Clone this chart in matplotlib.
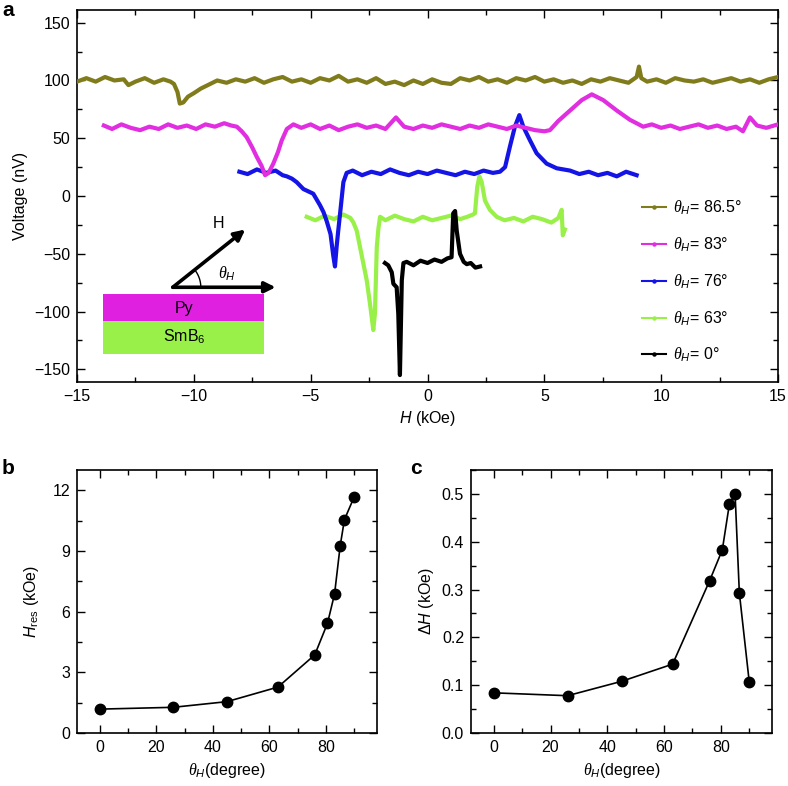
import numpy as np
import matplotlib
matplotlib.use("Agg")
import matplotlib.pyplot as plt
from matplotlib.lines import Line2D
from matplotlib.patches import Rectangle
from matplotlib.ticker import MultipleLocator, FormatStrFormatter

plt.rcParams['font.family'] = ['Liberation Sans', 'DejaVu Sans']
plt.rcParams['mathtext.fontset'] = 'custom'
plt.rcParams['mathtext.rm'] = 'Liberation Sans'
plt.rcParams['mathtext.it'] = 'Liberation Serif:italic'
plt.rcParams['mathtext.sf'] = 'Liberation Sans:italic'

# ---------------- data: panel a ----------------
H_865 = [-15.0, -14.6, -14.2, -13.8, -13.4, -13.0, -12.8, -12.5, -12.1, -11.7, -11.3, -11.0, -10.85, -10.7,
         -10.6, -10.45, -10.25, -10.0, -9.7, -9.4, -9.0, -8.6, -8.2, -7.8, -7.4, -7.0, -6.6, -6.2, -5.8, -5.4,
         -5.0, -4.6, -4.2, -3.8, -3.4, -3.0, -2.6, -2.2, -1.8, -1.4, -1.0, -0.6, -0.2, 0.2, 0.6, 1.0, 1.4, 1.8,
         2.2, 2.6, 3.0, 3.4, 3.8, 4.2, 4.6, 5.0, 5.4, 5.8, 6.2, 6.6, 7.0, 7.4, 7.8, 8.2, 8.6, 8.95, 9.05, 9.15,
         9.4, 9.8, 10.2, 10.6, 11.0, 11.4, 11.8, 12.2, 12.6, 13.0, 13.4, 13.8, 14.2, 14.6, 15.0]
V_865 = [99, 102, 99, 103, 100, 101, 96, 99, 102, 98, 101, 99, 97, 90, 80, 81, 86, 89, 93, 96,
         100, 98, 101, 99, 102, 98, 101, 103, 99, 101, 98, 102, 100, 104, 99, 101, 98, 102, 97, 99,
         96, 100, 97, 101, 98, 97, 102, 100, 103, 99, 101, 98, 102, 100, 103, 99, 101, 98, 100, 97,
         101, 99, 102, 100, 98, 103, 112, 102, 99, 101, 98, 102, 100, 99, 101, 98, 100, 102, 99, 101,
         98, 101, 103]

H_83 = [-13.85, -13.5, -13.1, -12.7, -12.3, -11.9, -11.5, -11.1, -10.7, -10.3, -9.9, -9.5, -9.1, -8.7, -8.4,
        -8.16, -7.95, -7.74, -7.5, -7.31, -7.1, -6.95, -6.8, -6.6, -6.4, -6.24, -6.02, -5.74, -5.4, -5.0,
        -4.6, -4.2, -3.8, -3.4, -3.0, -2.6, -2.2, -1.8, -1.35, -1.0, -0.6, -0.2, 0.2, 0.6, 1.0, 1.4, 1.8,
        2.2, 2.6, 3.0, 3.4, 3.8, 4.2, 4.6, 5.0, 5.24, 5.6, 6.1, 6.6, 7.03, 7.52, 8.1, 8.66, 9.23, 9.6,
        10.0, 10.4, 10.8, 11.2, 11.6, 12.0, 12.4, 12.8, 13.2, 13.5, 13.8, 14.1, 14.5, 15.0]
V_83 = [61, 58, 62, 59, 57, 60, 58, 62, 59, 61, 58, 62, 60, 63, 61, 60, 56, 51, 42, 34,
        26, 18, 20, 28, 38, 48, 58, 62, 59, 62, 58, 61, 57, 60, 62, 59, 61, 58, 68, 60,
        58, 61, 59, 62, 60, 58, 61, 59, 62, 60, 58, 61, 59, 57, 56, 57, 65, 74, 83, 88,
        83, 74, 66, 60, 62, 59, 61, 58, 60, 62, 59, 61, 58, 60, 56, 68, 61, 59, 62]

H_76 = [-8.05, -7.7, -7.3, -6.9, -6.5, -6.2, -6.02, -5.8, -5.6, -5.31, -5.1, -4.89, -4.6, -4.45, -4.31,
        -4.15, -4.03, -3.96, -3.89, -3.82, -3.74, -3.6, -3.46, -3.2, -2.8, -2.4, -2.0, -1.6, -1.2, -0.8,
        -0.4, 0.0, 0.4, 0.8, 1.2, 1.6, 2.0, 2.4, 2.8, 3.1, 3.32, 3.53, 3.74, 3.93, 4.1, 4.39, 4.67, 5.1,
        5.53, 6.1, 6.5, 6.9, 7.3, 7.7, 8.1, 8.5, 8.95]
V_76 = [21, 19, 23, 20, 22, 18, 17, 15, 12, 6, 4, 2, -8, -14, -22, -33, -52, -61, -44, -30,
        -15, 12, 20, 22, 18, 21, 19, 23, 20, 18, 21, 19, 22, 20, 18, 21, 19, 22, 20, 21,
        25, 43, 60, 70, 60, 48, 37, 28, 24, 22, 19, 21, 18, 20, 17, 21, 18]

H_63 = [-5.17, -4.8, -4.4, -4.0, -3.6, -3.3, -3.17, -3.03, -2.89, -2.75, -2.6, -2.45, -2.32, -2.25, -2.17,
        -2.1, -2.03, -1.8, -1.4, -1.0, -0.6, -0.2, 0.2, 0.6, 1.0, 1.4, 1.7, 1.95, 2.03, 2.13, 2.22, 2.32,
        2.46, 2.67, 2.96, 3.3, 3.7, 4.1, 4.5, 4.9, 5.3, 5.6, 5.74, 5.79, 5.88]
V_63 = [-18, -21, -17, -20, -16, -19, -23, -30, -44, -58, -73, -95, -116, -102, -44, -28, -18, -21, -17, -20,
        -22, -18, -21, -19, -17, -20, -18, -16, -15, 8, 17, 12, -4, -12, -18, -21, -19, -22, -18, -20,
        -23, -19, -12, -34, -29]

H_0 = [-1.82, -1.68, -1.53, -1.46, -1.32, -1.25, -1.18, -1.1, -1.03, -0.89, -0.6, -0.3, 0.0, 0.3, 0.6,
       0.85, 1.03, 1.1, 1.18, 1.25, 1.39, 1.55, 1.68, 1.85, 2.05, 2.25]
V_0 = [-58, -60, -66, -76, -79, -102, -155, -73, -58, -57, -60, -56, -58, -55, -57, -54, -53, -15, -13, -30,
       -50, -57, -59, -58, -62, -61]

labels_a = [r'$\theta_{\mathsf{H}}$= 86.5°', r'$\theta_{\mathsf{H}}$= 83°', r'$\theta_{\mathsf{H}}$= 76°',
            r'$\theta_{\mathsf{H}}$= 63°', r'$\theta_{\mathsf{H}}$= 0°']
colors_a = ['#807c1c', '#e02ee0', '#1414e6', '#98f048', '#000000']

# ---------------- data: panels b, c ----------------
theta = [0, 26, 45, 63, 76, 80.5, 83, 85, 86.5, 90]
H_res = [1.18, 1.27, 1.55, 2.27, 3.86, 5.42, 6.87, 9.26, 10.55, 11.69]
dH = [0.084, 0.078, 0.108, 0.144, 0.318, 0.383, 0.479, 0.500, 0.293, 0.106]

W, Hh = 788, 786
fig = plt.figure(figsize=(W / 100, Hh / 100), dpi=100)

def frac(l, t, r, b):
    return [l / W, 1 - b / Hh, (r - l) / W, (b - t) / Hh]

axa = fig.add_axes(frac(77, 10, 778, 382))
axb = fig.add_axes(frac(77, 470, 377, 733))
axc = fig.add_axes(frac(471, 470, 772, 733))

FS = 11.5
for ax in (axa, axb, axc):
    for s in ax.spines.values():
        s.set_linewidth(1.2)
    ax.tick_params(which='both', direction='in', top=True, right=True, width=1.0, labelsize=FS, pad=5)
    ax.tick_params(which='major', length=5.5)
    ax.tick_params(which='minor', length=3.5)

# panel a
series = [(H_63, V_63, 3), (H_0, V_0, 4), (H_76, V_76, 2), (H_83, V_83, 1), (H_865, V_865, 0)]
for hx, vy, k in series:
    axa.plot(hx, vy, color=colors_a[k], lw=3.0, solid_joinstyle='round', zorder=3)
axa.set_xlim(-15, 15)
axa.set_ylim(-161, 161)
axa.xaxis.set_major_locator(MultipleLocator(5))
axa.xaxis.set_minor_locator(MultipleLocator(2.5))
axa.yaxis.set_major_locator(MultipleLocator(50))
axa.yaxis.set_minor_locator(MultipleLocator(25))
axa.set_xlabel(r'$\mathsf{H}$ (kOe)', fontsize=FS, labelpad=4)
axa.set_ylabel('Voltage (nV)', fontsize=FS, labelpad=4)

handles = [Line2D([], [], color=c, lw=1.5, marker='o', ms=2.2) for c in colors_a]
axa.legend(handles, labels_a, loc='center left', bbox_to_anchor=(0.795, 0.27), frameon=False,
           fontsize=FS, handlelength=1.5, handletextpad=0.4, labelspacing=1.15, borderpad=0)

# inset schematic
axa.add_patch(Rectangle((-13.87, -108.4), 6.89, 24.0, facecolor='#e020e0', edgecolor='none', zorder=2))
axa.add_patch(Rectangle((-13.87, -137.0), 6.89, 28.6, facecolor='#98f048', edgecolor='none', zorder=2))
axa.text(-10.4, -97, 'Py', ha='center', va='center', fontsize=FS)
axa.text(-10.4, -122, r'SmB$_6$', ha='center', va='center', fontsize=FS)
o = (-10.9, -79)
axa.annotate('', xy=(-6.5, -79), xytext=o,
             arrowprops=dict(arrowstyle='-|>', lw=2.6, color='k', mutation_scale=16, shrinkA=0, shrinkB=0))
axa.annotate('', xy=(-7.8, -29), xytext=o,
             arrowprops=dict(arrowstyle='-|>', lw=2.6, color='k', mutation_scale=16, shrinkA=0, shrinkB=0))
axa.text(-8.96, -24, 'H', ha='center', va='center', fontsize=FS)
axa.text(-8.6, -67, r'$\theta_{\mathsf{H}}$', ha='center', va='center', fontsize=FS)
# angle arc drawn in display space
fig.canvas.draw()
p0 = axa.transData.transform(o)
p1 = axa.transData.transform((-7.8, -29))
ang = np.arctan2(p1[1] - p0[1], p1[0] - p0[0])
tt = np.linspace(0, ang, 30)
r = 28
pts = np.column_stack([p0[0] + r * np.cos(tt), p0[1] + r * np.sin(tt)])
dpts = axa.transData.inverted().transform(pts)
axa.plot(dpts[:, 0], dpts[:, 1], color='k', lw=1.0)

# panel b
axb.plot(theta, H_res, '-o', color='k', lw=1.2, ms=7.5)
axb.set_xlim(-8, 98)
axb.set_ylim(0, 13)
axb.xaxis.set_major_locator(MultipleLocator(20))
axb.xaxis.set_minor_locator(MultipleLocator(10))
axb.yaxis.set_major_locator(MultipleLocator(3))
axb.yaxis.set_minor_locator(MultipleLocator(1.5))
axb.set_xlabel(r'$\theta_{\mathsf{H}}$(degree)', fontsize=FS, labelpad=4)
axb.set_ylabel(r'$\mathsf{H}_{\mathrm{res}}$ (kOe)', fontsize=FS, labelpad=8)

# panel c
axc.plot(theta, dH, '-o', color='k', lw=1.2, ms=7.5)
axc.set_xlim(-8, 98)
axc.set_ylim(0, 0.55)
axc.xaxis.set_major_locator(MultipleLocator(20))
axc.xaxis.set_minor_locator(MultipleLocator(10))
axc.yaxis.set_major_locator(MultipleLocator(0.1))
axc.yaxis.set_minor_locator(MultipleLocator(0.05))
axc.yaxis.set_major_formatter(FormatStrFormatter('%.1f'))
axc.set_xlabel(r'$\theta_{\mathsf{H}}$(degree)', fontsize=FS, labelpad=4)
axc.set_ylabel(r'Δ$\mathsf{H}$ (kOe)', fontsize=FS, labelpad=4)

fig.text(2 / W, 1 - 1 / Hh, 'a', fontsize=15, fontweight='bold', va='top', ha='left')
fig.text(2 / W, 1 - 459 / Hh, 'b', fontsize=15, fontweight='bold', va='top', ha='left')
fig.text(410 / W, 1 - 459 / Hh, 'c', fontsize=15, fontweight='bold', va='top', ha='left')

fig.savefig('out.png', dpi=100)
